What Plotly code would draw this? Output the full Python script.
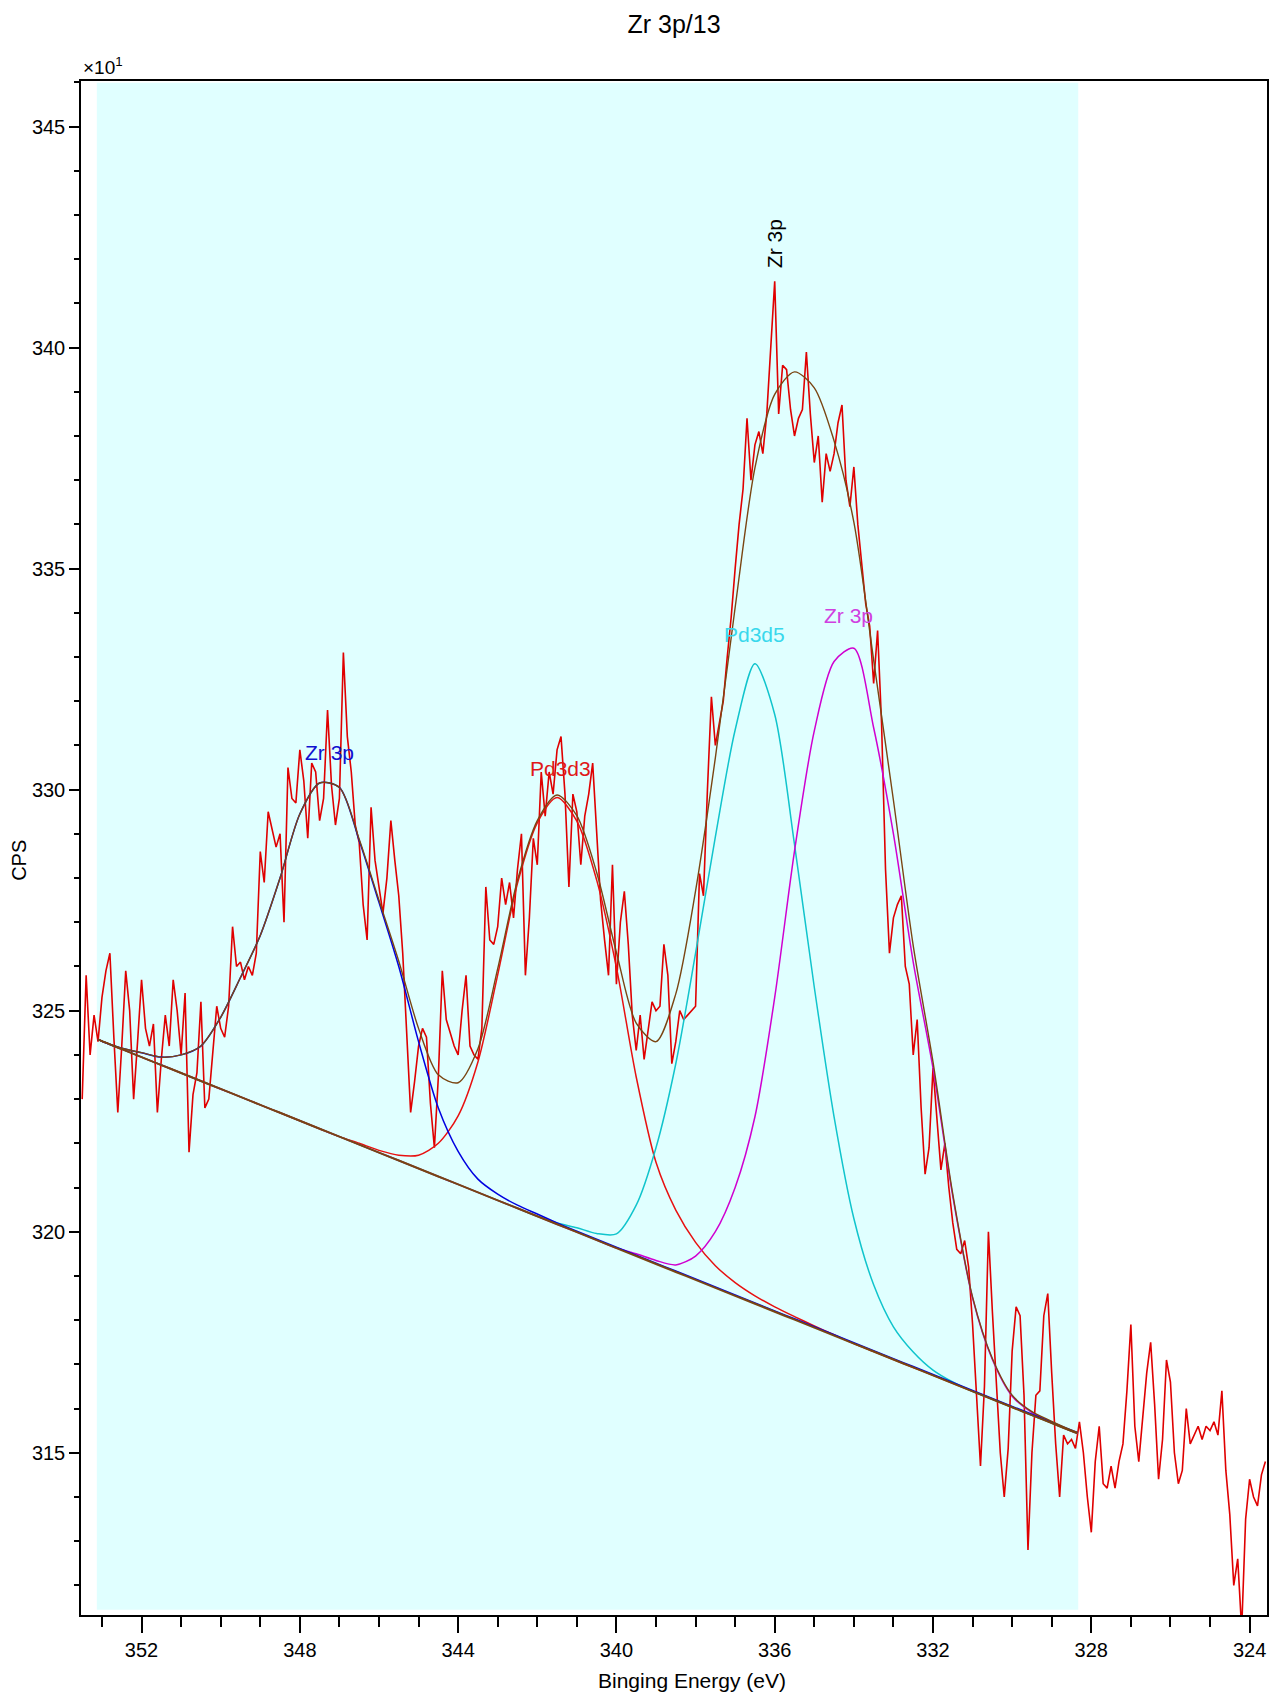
import plotly.graph_objects as go

# ---------------- data ----------------
E_START = 353.5
E_STEP = 0.1
# measured spectrum (CPS / 10), from 353.5 eV down to 323.6 eV in 0.1 eV steps
CPS = [
    323.0, 325.8, 324.0, 324.9, 324.3, 325.3, 325.9, 326.3, 324.4, 322.7,
    324.2, 325.9, 325.0, 323.0, 324.3, 325.7, 324.6, 324.2, 324.7, 322.7,
    323.9, 324.9, 324.2, 325.7, 325.0, 324.0, 325.4, 321.8, 323.1, 323.6,
    325.2, 322.8, 323.0, 324.0, 325.1, 324.6, 324.4, 325.1, 326.9, 326.0,
    326.1, 325.7, 326.0, 325.8, 326.3, 328.6, 327.9, 329.5, 329.1, 328.7,
    329.0, 327.0, 330.5, 329.8, 329.7, 330.9, 330.2, 328.9, 330.6, 330.4,
    329.3, 329.8, 331.8, 330.1, 329.2, 329.8, 333.1, 331.2, 330.4, 329.2,
    328.8, 327.4, 326.6, 329.6, 328.4, 327.8, 327.2, 328.0, 329.3, 328.4,
    327.6, 326.3, 324.6, 322.7, 323.4, 324.2, 324.6, 324.4, 322.9, 321.9,
    323.5, 325.9, 324.8, 324.5, 324.2, 324.0, 325.0, 325.8, 324.2, 324.0,
    323.9, 324.6, 327.8, 326.6, 326.5, 326.9, 328.0, 327.4, 327.9, 327.1,
    328.2, 329.0, 325.8, 327.1, 328.9, 328.3, 330.4, 329.4, 330.4, 329.9,
    330.9, 331.2, 329.9, 327.8, 329.9, 329.5, 328.3, 329.4, 329.9, 330.6,
    329.0, 327.5, 326.6, 325.8, 328.3, 325.6, 327.0, 327.7, 326.5, 324.9,
    324.1, 324.9, 323.9, 324.5, 325.2, 325.0, 325.1, 326.5, 325.8, 323.8,
    324.3, 325.0, 324.8, 324.9, 325.0, 325.1, 328.1, 327.6, 330.0, 332.1,
    331.0, 331.5, 332.0, 333.0, 333.9, 335.0, 336.0, 336.8, 338.4, 337.0,
    337.8, 338.1, 337.6, 338.5, 339.9, 341.5, 338.5, 339.6, 339.5, 338.6,
    338.0, 338.4, 338.6, 339.9, 338.5, 337.4, 338.0, 336.5, 337.6, 337.2,
    337.6, 338.3, 338.7, 337.0, 336.4, 337.3, 336.0, 335.1, 334.2, 333.7,
    332.4, 333.6, 331.5, 328.2, 326.3, 327.1, 327.4, 327.6, 326.0, 325.6,
    324.0, 324.8, 322.8, 321.3, 321.9, 323.7, 322.6, 321.4, 322.0, 321.0,
    320.2, 319.6, 319.5, 319.8, 319.2, 317.9, 316.3, 314.7, 316.5, 320.0,
    318.2, 316.5, 315.0, 314.0, 315.1, 317.3, 318.3, 318.1, 316.3, 312.8,
    315.0, 316.3, 316.4, 318.1, 318.6, 316.8, 315.2, 314.0, 315.4, 315.2,
    315.3, 315.1, 315.7, 315.0, 314.0, 313.2, 314.8, 315.6, 314.3, 314.2,
    314.7, 314.2, 314.8, 315.2, 316.4, 317.9, 315.6, 314.8, 315.8, 316.8,
    317.5, 316.1, 314.4, 315.3, 317.1, 316.6, 315.0, 314.3, 314.6, 316.0,
    315.2, 315.4, 315.6, 315.3, 315.6, 315.5, 315.7, 315.4, 316.4, 314.6,
    313.6, 312.0, 312.6, 311.0, 313.5, 314.4, 314.0, 313.8, 314.5, 314.8,
]
ENERGY = [round(E_START - i * E_STEP, 2) for i in range(len(CPS))]

# fit region sampling grid (eV)
FIT_E = [353.1, 353.0, 352.5, 352.0, 351.5, 351.0, 350.5, 350.0, 349.5, 349.0,
         348.5, 348.0, 347.5, 347.0, 346.5, 346.0, 345.5, 345.0, 344.5, 344.0,
         343.5, 343.0, 342.5, 342.0, 341.5, 341.0, 340.5, 340.0, 339.5, 339.0,
         338.5, 338.0, 337.5, 337.0, 336.5, 336.0, 335.5, 335.0, 334.5, 334.0,
         333.5, 333.0, 332.5, 332.0, 331.5, 331.0, 330.5, 330.0, 329.5, 329.0,
         328.5, 328.35]
# Shirley-type background (CPS / 10)
BACKGROUND = [324.35, 324.31, 324.13, 323.95, 323.77, 323.59, 323.41, 323.23, 323.05, 322.87,
              322.69, 322.51, 322.33, 322.15, 321.97, 321.79, 321.61, 321.43, 321.25, 321.07,
              320.89, 320.71, 320.53, 320.35, 320.17, 319.99, 319.81, 319.63, 319.45, 319.27,
              319.09, 318.91, 318.73, 318.55, 318.37, 318.19, 318.01, 317.83, 317.65, 317.47,
              317.29, 317.11, 316.93, 316.75, 316.57, 316.39, 316.21, 316.03, 315.85, 315.67,
              315.49, 315.44]
# component heights above the background
ZR3P_A = [0.0, 0.0, 0.02, 0.1, 0.18, 0.41, 0.79, 1.62, 2.7, 3.83,
          5.31, 6.94, 7.82, 7.9, 6.88, 5.66, 4.39, 2.87, 1.55, 0.75,
          0.3, 0.14, 0.07, 0.05, 0.03, 0.02, 0.02, 0.02, 0.02, 0.02,
          0.02, 0.02, 0.02, 0.02, 0.02, 0.02, 0.02, 0.02, 0.02, 0.02,
          0.02, 0.02, 0.02, 0.02, 0.02, 0.02, 0.02, 0.02, 0.02, 0.02,
          0.02, 0.02]
PD3D3 = [0.0, 0.0, 0.0, 0.0, 0.0, 0.0, 0.0, 0.0, 0.0, 0.0,
         0.0, 0.0, 0.0, 0.0, 0.03, 0.05, 0.12, 0.3, 0.75, 1.55,
         2.95, 5.1, 7.35, 8.9, 9.65, 9.3, 8.15, 6.35, 4.05, 2.3,
         1.4, 0.85, 0.5, 0.3, 0.18, 0.11, 0.07, 0.04, 0.02, 0.0,
         0.0, 0.0, 0.0, 0.0, 0.0, 0.0, 0.0, 0.0, 0.0, 0.0,
         0.0, 0.0]
PD3D5 = [0.0, 0.0, 0.0, 0.0, 0.0, 0.0, 0.0, 0.0, 0.0, 0.0,
         0.0, 0.0, 0.0, 0.0, 0.0, 0.0, 0.0, 0.0, 0.0, 0.0,
         0.0, 0.0, 0.0, 0.0, 0.03, 0.1, 0.15, 0.32, 1.15, 2.63,
         4.71, 7.39, 10.2, 12.8, 14.48, 13.51, 10.75, 7.7, 4.95, 2.83,
         1.51, 0.74, 0.35, 0.12, 0.03, 0.0, 0.0, 0.0, 0.0, 0.0,
         0.0, 0.0]
ZR3P_B = [0.0, 0.0, 0.0, 0.0, 0.0, 0.0, 0.0, 0.0, 0.0, 0.0,
          0.0, 0.0, 0.0, 0.0, 0.0, 0.0, 0.0, 0.0, 0.0, 0.0,
          0.0, 0.0, 0.0, 0.0, 0.0, 0.0, 0.0, 0.0, 0.05, 0.08,
          0.16, 0.54, 1.27, 2.45, 4.23, 7.11, 10.6, 13.5, 15.25, 15.73,
          14.11, 11.89, 9.17, 6.95, 4.23, 2.11, 0.9, 0.25, 0.06, 0.02,
          0.0, 0.0]

FIT_REGION = [353.13, 328.33]

# peak labels: (text, energy, cps, colour, angle)
LABELS = [
    ("Zr 3p", 347.25, 330.83, "#1010D0", 0),
    ("Pd3d3", 341.42, 330.47, "#E01818", 0),
    ("Pd3d5", 336.50, 333.50, "#38D8EC", 0),
    ("Zr 3p", 334.13, 333.95, "#D040E0", 0),
    ("Zr 3p", 336.02, 342.36, "#000000", -90),
]

FONT = "Liberation Sans, Arial, sans-serif"

# ---------------- derived curves ----------------
def on_bg(heights):
    return [b + h for b, h in zip(BACKGROUND, heights)]

ENVELOPE = [b + a + c + d + e for b, a, c, d, e in
            zip(BACKGROUND, ZR3P_A, PD3D3, PD3D5, ZR3P_B)]

# ---------------- figure ----------------
fig = go.Figure()

fig.add_shape(type="rect", xref="x", yref="y",
              x0=FIT_REGION[0], x1=FIT_REGION[1], y0=311.45, y1=345.99,
              fillcolor="#E0FFFF", line=dict(width=0), layer="below")

fig.add_trace(go.Scatter(x=ENERGY, y=CPS, mode="lines",
                         line=dict(color="#E00000", width=1.6), hoverinfo="skip"))

curves = [
    (on_bg(PD3D3), "#E81010", 1.5),
    (on_bg(PD3D5), "#10C4CC", 1.5),
    (on_bg(ZR3P_B), "#D000D0", 1.5),
    (on_bg(ZR3P_A), "#0000E0", 1.5),
    (BACKGROUND, "#7A4512", 2.0),
    (ENVELOPE, "#7A4512", 1.4),
]
for ys, col, w in curves:
    fig.add_trace(go.Scatter(x=FIT_E, y=ys, mode="lines",
                             line=dict(color=col, width=w, shape="spline", smoothing=0.8),
                             hoverinfo="skip"))

for text, ex, ey, col, ang in LABELS:
    fig.add_annotation(x=ex, y=ey, xref="x", yref="y", text=text, showarrow=False,
                       textangle=ang, font=dict(family=FONT, size=21, color=col),
                       xanchor="center", yanchor="middle")

# axis titles & multiplier
fig.add_annotation(xref="paper", yref="paper", x=-0.0518, y=0.492, text="CPS",
                   textangle=-90, showarrow=False, xanchor="center", yanchor="middle",
                   font=dict(family=FONT, size=20, color="black"))
fig.add_annotation(xref="paper", yref="paper", x=0.515, y=-0.0424,
                   xanchor="center", yanchor="middle",
                   text="Binging Energy (eV)", showarrow=False,
                   font=dict(family=FONT, size=21, color="black"))
fig.add_annotation(xref="paper", yref="paper", x=0.0, y=1.0098, xanchor="left",
                   yanchor="middle", text="×10<sup>1</sup>", showarrow=False,
                   font=dict(family=FONT, size=19, color="black"))

axis_common = dict(showline=True, linecolor="black", linewidth=1.5, mirror=True,
                   showgrid=False, zeroline=False, ticks="outside",
                   tickcolor="black", tickwidth=1.5,
                   tickfont=dict(family=FONT, size=20, color="black"))

fig.update_xaxes(range=[353.53, 323.56], dtick=4, tick0=324, ticklen=16,
                 minor=dict(dtick=1, tick0=324, ticklen=10, tickwidth=1.5,
                            tickcolor="black", ticks="outside", showgrid=False),
                 **axis_common)
fig.update_yaxes(range=[311.33, 346.03], dtick=5, tick0=0, ticklen=10,
                 minor=dict(dtick=1, tick0=0, ticklen=5, tickwidth=1.5,
                            tickcolor="black", ticks="outside", showgrid=False),
                 **axis_common)

fig.update_layout(
    width=1271, height=1696,
    margin=dict(l=81, r=2, t=81, b=81),
    paper_bgcolor="white", plot_bgcolor="white",
    showlegend=False,
    font=dict(family=FONT, color="black"),
    title=dict(text="Zr 3p/13", x=0.5, xref="paper", y=1 - 24 / 1696,
               yref="container", yanchor="middle", xanchor="center",
               font=dict(family=FONT, size=25, color="black")),
)

fig.write_html("out.html")
